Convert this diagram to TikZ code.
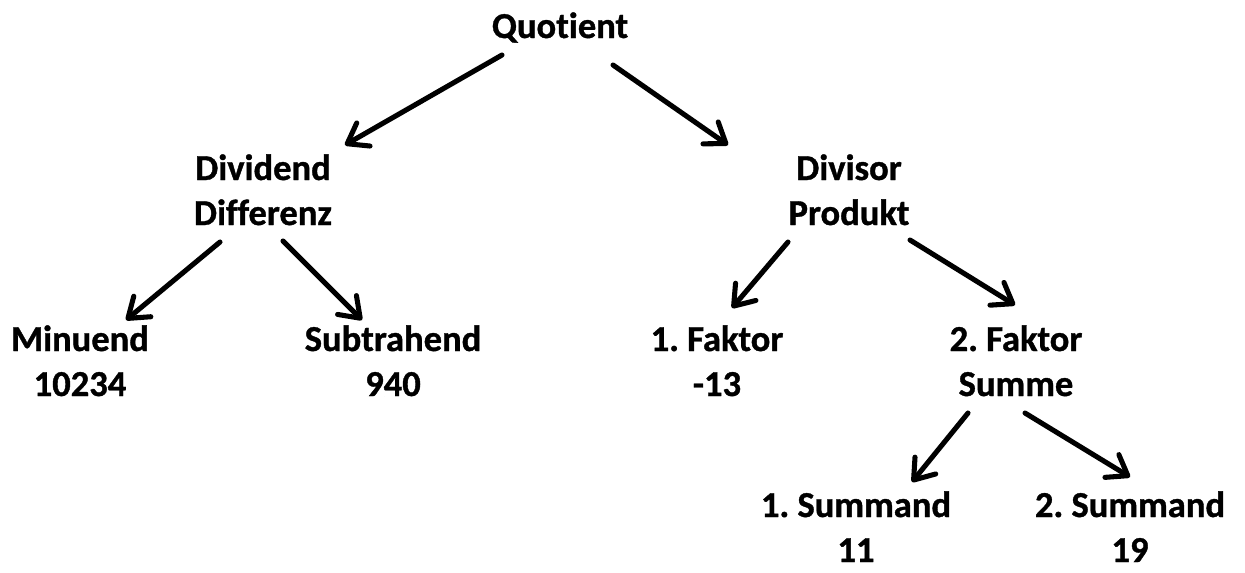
\documentclass[tikz,border=0pt]{standalone}
\usepackage{fontspec}
\setmainfont{Carlito}[Ligatures=NoCommon]
\newfontfamily\lblfont{Carlito Bold}[Ligatures=NoCommon, FakeBold=1]
\usetikzlibrary{arrows.meta,calc}

\tikzset{
  lbl/.style={anchor=base, inner sep=0pt, align=center,
    font=\lblfont\fontsize{27.4}{33.75}\selectfont\frenchspacing},
  arr/.style={line width=3.8pt, line cap=round,
    -{Straight Barb[length=14pt,width=20pt,line cap=round,line join=round]}}
}

\begin{document}
\begin{tikzpicture}[x=0.75pt,y=0.75pt,yscale=-1,xscale=1]
\useasboundingbox (0,0) rectangle (1245,572);

% Text Node
\node (quot) at (560,38) [lbl] {Quotient};
% Text Node
\node (divd) at (263,225) [lbl] {Dividend\\Differenz};
% Text Node
\node (divs) at (849,225) [lbl] {Divisor\\Produkt};
% Text Node
\node (minu) at (80,396) [lbl] {Minuend\\10234};
% Text Node
\node (subt) at (393,396) [lbl] {Subtrahend\\940};
% Text Node
\node (fak1) at (717,396) [lbl] {1. Faktor\\-13};
% Text Node
\node (fak2) at (1016,396) [lbl] {2. Faktor\\Summe};
% Text Node
\node (sum1) at (856,562) [lbl] {1. Summand\\11};
% Text Node
\node (sum2) at (1130,562) [lbl] {2. Summand\\19};

%Straight Lines
\draw [arr] ($(quot.base)+(-58,17)$) -- ($(divd.base)+(82,-80)$);
\draw [arr] ($(quot.base)+(53,27)$) -- ($(divs.base)+(-121,-80)$);
%Straight Lines
\draw [arr] ($(divd.base)+(-43,17)$) -- ($(minu.base)+(46,-76)$);
\draw [arr] ($(divd.base)+(20,16)$) -- ($(subt.base)+(-31,-76)$);
%Straight Lines
\draw [arr] ($(divs.base)+(-61,17)$) -- ($(fak1.base)+(15,-88)$);
\draw [arr] ($(divs.base)+(61,15)$) -- ($(fak2.base)+(-1,-91)$);
%Straight Lines
\draw [arr] ($(fak2.base)+(-48,17)$) -- ($(sum1.base)+(56,-80)$);
\draw [arr] ($(fak2.base)+(9,17)$) -- ($(sum2.base)+(0,-85)$);

\end{tikzpicture}
\end{document}
